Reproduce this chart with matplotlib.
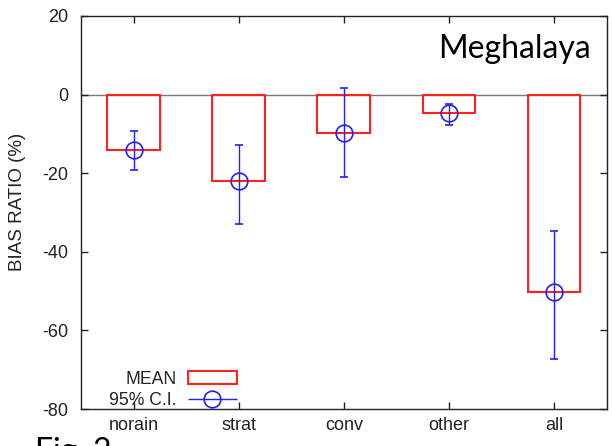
import numpy as np
import matplotlib
matplotlib.use('Agg')
import matplotlib.pyplot as plt
from matplotlib.patches import Patch
from matplotlib.container import ErrorbarContainer
from matplotlib.legend_handler import HandlerErrorbar

categorias = ['norain', 'strat', 'conv', 'other', 'all']
media = [-14.0, -22.0, -9.7, -4.6, -50.2]
ic_bajo = [-19.3, -33.0, -21.0, -7.8, -67.2]
ic_alto = [-9.3, -12.8, 1.8, -2.3, -34.7]
yticks = [20, 0, -20, -40, -60, -80]

plt.rcParams['font.family'] = ['Liberation Sans', 'DejaVu Sans']
plt.rcParams['axes.unicode_minus'] = False

def graficar():
    fig = plt.figure(figsize=(6.12, 4.46), dpi=100)
    ax = fig.add_axes([81/612, 37/446, 525.5/612, 393/446])

    x = np.arange(len(categorias))
    media_a = np.array(media)
    err = [media_a - np.array(ic_bajo), np.array(ic_alto) - media_a]

    # linea del cero
    ax.axhline(0, color='#777777', lw=1, zorder=1)
    # barras
    ax.bar(x, media, width=0.5, fill=False, edgecolor='#ff2020', linewidth=1.5, zorder=2)
    # intervalos
    ax.errorbar(x, media, yerr=err, fmt='o', ms=12, mfc='none', mec='#2020ff', mew=1.2,
                ecolor='#2020ff', elinewidth=1, capsize=3, capthick=1, zorder=3)

    ax.set_xlim(-0.5, 4.5)
    ax.set_ylim(-80, 20)
    ax.set_xticks(x)
    ax.set_xticklabels(categorias)
    ax.set_yticks(yticks)
    ax.tick_params(direction='in', length=5, width=1, top=True, right=True,
                   labelsize=13, colors='#222222')
    ax.tick_params(axis='y', pad=9)
    ax.tick_params(axis='x', pad=5.5)
    for s in ax.spines.values():
        s.set_linewidth(1)
        s.set_color('#222222')

    ax.set_ylabel('BIAS RATIO (%)', fontsize=13.5, color='#222222', va='center')
    ax.yaxis.set_label_coords(-0.121, 0.528)

    ax.text(0.9705, 0.893, 'Meghalaya', transform=ax.transAxes, ha='right',
            va='baseline', fontsize=23, family='Lato')
    fig.text(35/612, -0.033, 'Fig. 2', ha='left', va='baseline', fontsize=23, family='Lato')

    # leyenda
    h1 = Patch(facecolor='none', edgecolor='#ff2020', linewidth=1.5)
    h2 = ax.errorbar([], [], xerr=[], fmt='o', ms=12, mfc='none', mec='#2020ff', mew=1.2,
                     ecolor='#2020ff', elinewidth=1, capsize=3, capthick=1)
    leg = ax.legend([h1, h2], ['MEAN', '95% C.I.'], loc='lower right',
                    bbox_to_anchor=(0.297, 0.0), frameon=False, markerfirst=False,
                    fontsize=12.7, handlelength=2.8, handletextpad=0.63, labelspacing=0.25,
                    borderpad=0, borderaxespad=0, numpoints=1,
                    handler_map={ErrorbarContainer: HandlerErrorbar(xerr_size=1.39)})
    for t in leg.get_texts():
        t.set_color('#222222')

    fig.savefig('out.png', dpi=100)

graficar()
